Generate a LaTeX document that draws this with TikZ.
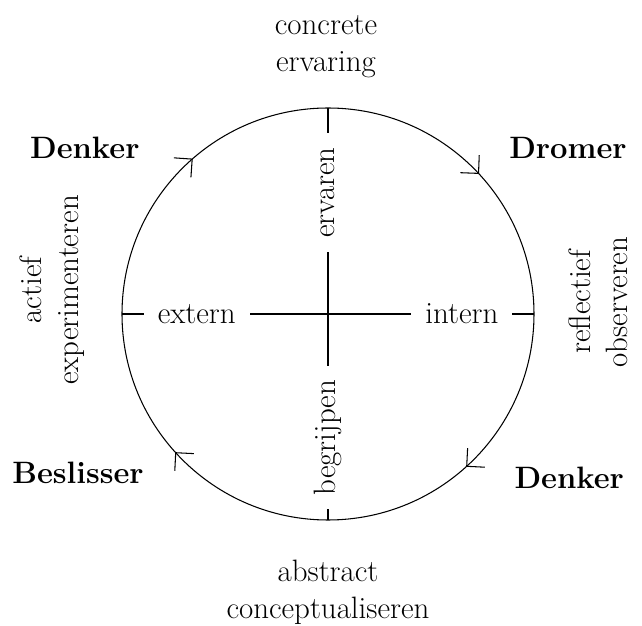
\documentclass[tikz,border=0pt]{standalone}
\usepackage{tikz}
\usetikzlibrary{arrows.meta,decorations.markings}

\tikzset{
    lbl/.style={font=\fontsize{22}{26.3}\selectfont, align=center},
    rol/.style={font=\fontsize{22}{26.3}\selectfont\bfseries},
    as/.style={fill=white, inner xsep=10pt, inner ysep=0pt, font=\fontsize{22}{26.3}\selectfont}
}

\begin{document}
\begin{tikzpicture}[line width=0.75pt]
        \useasboundingbox (-8.2,-7.8) rectangle (7.85,7.85);
        \coordinate (c) at (0,0);
        \coordinate (top) at (90:5.15);
        \coordinate (bot) at (-90:5.15);
        \coordinate (lft) at (180:5.15);
        \coordinate (rgt) at (0:5.15);
        \draw[postaction={decorate}, decoration={markings,
            mark=at position 0.131 with {\arrow{Straight Barb[angle=90:13pt]}},
            mark=at position 0.383 with {\arrow{Straight Barb[angle=90:13pt]}},
            mark=at position 0.633 with {\arrow{Straight Barb[angle=90:13pt]}},
            mark=at position 0.886 with {\arrow{Straight Barb[angle=90:13pt]}}}]
            (top) arc[start angle=90, end angle=-270, radius=5.15];
        \draw (top) -- node[as, pos=.41, rotate=90](erv){ervaren} (c);
        \draw (bot) -- node[as, pos=.40, rotate=90](beg){begrijpen} (c);
        \draw (lft) -- node[as, pos=.363](ext){extern} (c);
        \draw (rgt) -- node[as, pos=.35](int){intern} (c);
        \draw (-0.05, 6.68) node[lbl](ce) {concrete\\ervaring};
        \draw (0, -6.95) node[lbl](ac) {abstract\\conceptualiseren};
        \draw (-6.9, 0.6) node[lbl, rotate=90](ae) {actief\\experimenteren};
        \draw (6.75, 0.3) node[lbl, rotate=90](ro) {reflectief\\observeren};
        \draw (-6.08, 4.15) node[rol](d1) {Denker};
        \draw (6.0, 4.15) node[rol](dr) {Dromer};
        \draw (-6.25, -3.98) node[rol](be) {Beslisser};
        \draw (6.03, -4.1) node[rol](d2) {Denker};
    \end{tikzpicture}
\end{document}
